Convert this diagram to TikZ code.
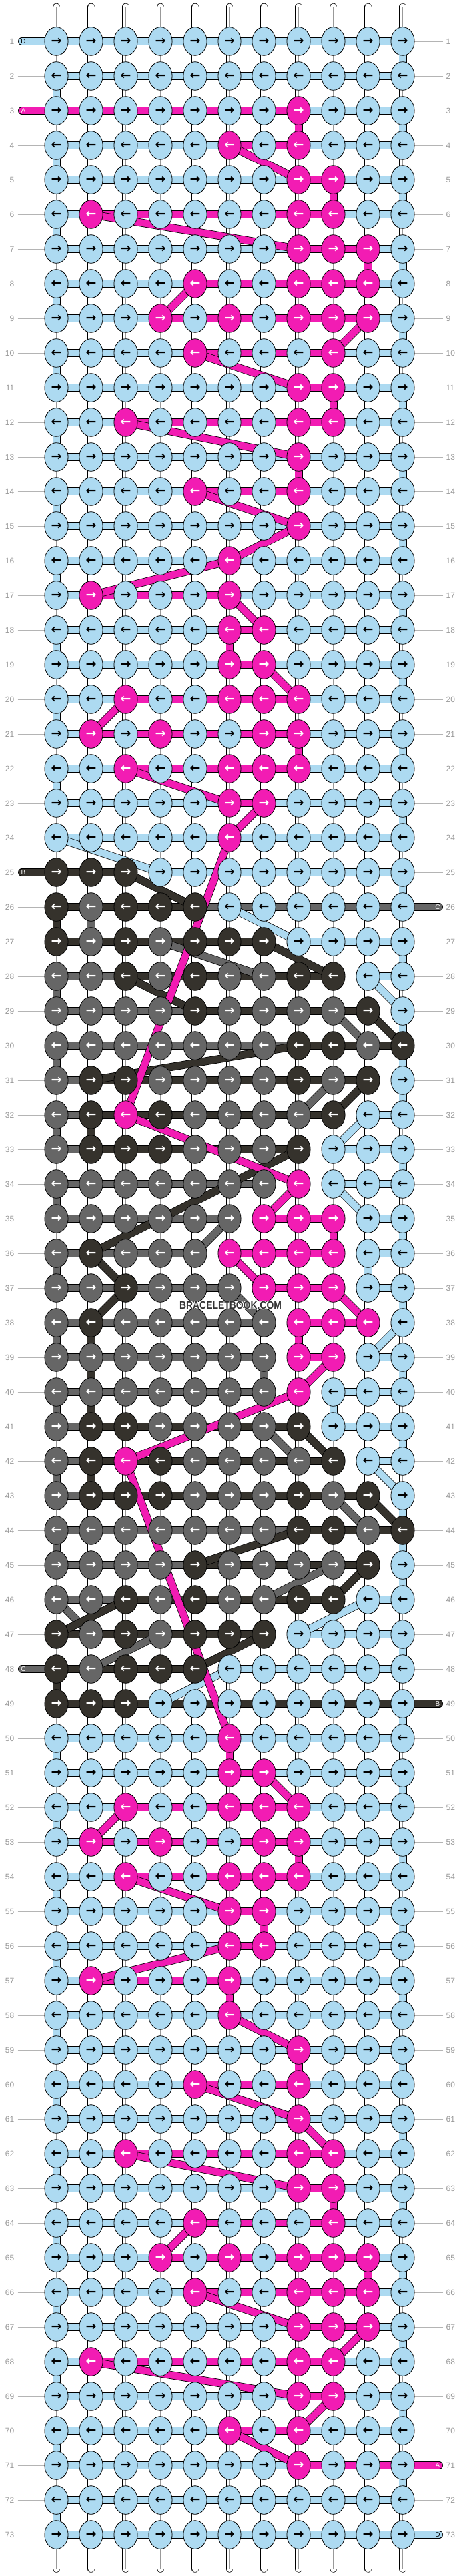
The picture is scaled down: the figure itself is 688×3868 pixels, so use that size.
\documentclass[tikz,border=0pt]{standalone}
\usepackage{fontspec}
\setmainfont{Liberation Sans}
\newfontfamily\arrowfam{DejaVu Sans}
\usetikzlibrary{shapes.geometric}
\definecolor{cb}{HTML}{ADDAF1}
\definecolor{cp}{HTML}{F21CB3}
\definecolor{cd}{HTML}{35322C}
\definecolor{cg}{HTML}{666666}
\definecolor{labc}{HTML}{9A9A9A}
\definecolor{linec}{HTML}{B4B4B4}
\pgfdeclarelayer{bgl}
\pgfdeclarelayer{hsl}
\pgfdeclarelayer{bdl}
\pgfsetlayers{bgl,hsl,bdl,main}
\tikzset{
  knot/.style={ellipse, draw=black, line width=0.8pt, minimum width=35.2pt, minimum height=42.6pt, inner sep=0pt, font=\arrowfam\bfseries\fontsize{19}{19}\selectfont},
  strand/.style={draw=black, line width=0.75pt, double=#1, double distance=10.5pt, line cap=round},
  basestr/.style={draw=black, line width=0.7pt, double=white, double distance=10pt, line cap=round},
  basemid/.style={draw=black!40, line width=0.5pt},
  lab/.style={text=labc, inner sep=0pt, font=\fontsize{12}{12}\selectfont},
  labline/.style={draw=linec, line width=1pt},
  stubl/.style={inner sep=0pt, font=\fontsize{10}{10}\selectfont},
  wmark/.style={font=\bfseries\fontsize{16}{16}\selectfont, xscale=0.87, transform shape, inner sep=0pt},
}
\newcommand\bbKnot[3]{%
  \def\kt{white}\ifx b#3\def\kt{black}\fi
  \pgfmathsetmacro\kx{84.5+52*(#2-1)}%
  \pgfmathsetmacro\ky{-62-52*(#1-1)}%
  \node[knot, fill=c#3, text=\kt] (k-#1-#2) at (\kx,\ky) {\ifodd#1 →\else ←\fi};%
  \ifnum#2=1 \coordinate (k-#1-0) at (33,\ky);\fi
  \ifnum#2=11 \coordinate (k-#1-12) at (659,\ky);\fi
}
\newcommand\bbHseg[4]{\draw[strand=c#4] (k-#1-#2.center) -- (k-#1-#3.center);}
\newcommand\bbConn[5]{\draw[strand=c#5] (k-#1-#2.center) -- (k-#3-#4.center);}

\ExplSyntaxOn
\seq_new:N \g_bb_rows_seq
\seq_gset_from_clist:Nn \g_bb_rows_seq
 {
  bbbbbbbbbbb, bbbbbbbbbbb, bbbbbbbpbbb, bbbbbpbpbbb, bbbbbbbppbb,
  bpbbbbbppbb, bbbbbbbpppb, bbbbpbbpppb, bbbpbpbpppb, bbbbpbbbpbb,
  bbbbbbbppbb, bbpbbbbppbb, bbbbbbbpbbb, bbbbpbbpbbb, bbbbbbbpbbb,
  bbbbbpbbbbb, bpbbbpbbbbb, bbbbbppbbbb, bbbbbppbbbb, bbpbbpppbbb,
  bpbpbbppbbb, bbpbbpppbbb, bbbbbppbbbb, bbbbbpbbbbb,
  dddbbbbbbbb, dgdddbbbbbb, dgdgdddbbbb, ggdgdggddbb, ggggdggggdb,
  gggggggddgd, gddggggdgdb, gdpdggggdbb, gdddgggdbbb, gggggggpbbb,
  ggggggpppbb, gdgggppppbb, ggdgggpppbb, gdgggggpppb, gggggggppbb,
  gggggggpbbb, gddggggdbbb, gdpdggggdbb, gdddgggdgdb, gggggggddgd,
  ggggdggggdb, ggdgdggddbb, dgdgdddbbbb, dgdddbbbbbb, dddbbbbbbbb,
  bbbbbpbbbbb, bbbbbppbbbb, bbpbbpppbbb, bpbpbbppbbb, bbpbbpppbbb,
  bbbbbppbbbb, bbbbbppbbbb, bpbbbpbbbbb, bbbbbpbbbbb, bbbbbbbpbbb,
  bbbbpbbpbbb, bbbbbbbpbbb, bbpbbbbppbb, bbbbbbbppbb, bbbbpbbbpbb,
  bbbpbpbpppb, bbbbpbbpppb, bbbbbbbpppb, bpbbbbbppbb, bbbbbbbppbb,
  bbbbbpbpbbb, bbbbbbbpbbb, bbbbbbbbbbb, bbbbbbbbbbb
 }
\prop_new:N \g_bb_stub_prop
\prop_gput:Nnn \g_bb_stub_prop {1b} {L}
\prop_gput:Nnn \g_bb_stub_prop {3p} {L}
\prop_gput:Nnn \g_bb_stub_prop {25d} {L}
\prop_gput:Nnn \g_bb_stub_prop {26g} {R}
\prop_gput:Nnn \g_bb_stub_prop {48g} {L}
\prop_gput:Nnn \g_bb_stub_prop {49d} {R}
\prop_gput:Nnn \g_bb_stub_prop {71p} {R}
\prop_gput:Nnn \g_bb_stub_prop {73b} {R}
\tl_new:N \l_bb_row_tl
\tl_new:N \l_bb_ch_tl
\tl_new:N \g_bb_hs_tl
\tl_new:N \g_bb_bd_tl
\int_new:N \l_bb_lo_int
\int_new:N \l_bb_hi_int
\int_new:N \l_bb_s_int
\int_new:N \l_bb_e_int
\int_new:N \l_bb_pr_int
\int_new:N \l_bb_pe_int
\cs_new_protected:Npn \bb_knots_row:n #1
 {
  \tl_set:Nx \l_bb_row_tl { \seq_item:Nn \g_bb_rows_seq {#1} }
  \int_step_inline:nnn {1} {11}
   { \use:x { \exp_not:N \bbKnot {#1} {##1} { \tl_item:Nn \l_bb_row_tl {##1} } } }
 }
\cs_new_protected:Npn \bb_color_row:nn #1#2
 {
  \tl_set:Nx \l_bb_row_tl { \seq_item:Nn \g_bb_rows_seq {#2} }
  \int_set:Nn \l_bb_lo_int {99}
  \int_set:Nn \l_bb_hi_int {-1}
  \int_step_inline:nnn {1} {11}
   {
    \tl_set:Nx \l_bb_ch_tl { \tl_item:Nn \l_bb_row_tl {##1} }
    \str_if_eq:VnT \l_bb_ch_tl {#1}
     {
      \int_compare:nNnT {##1} < \l_bb_lo_int { \int_set:Nn \l_bb_lo_int {##1} }
      \int_compare:nNnT {##1} > \l_bb_hi_int { \int_set:Nn \l_bb_hi_int {##1} }
     }
   }
  \prop_get:NnNT \g_bb_stub_prop {#2#1} \l_bb_ch_tl
   {
    \str_if_eq:VnT \l_bb_ch_tl {L}
     {
      \int_set:Nn \l_bb_lo_int {0}
      \int_compare:nNnT \l_bb_hi_int < {0} { \int_set:Nn \l_bb_hi_int {0} }
     }
    \str_if_eq:VnT \l_bb_ch_tl {R}
     {
      \int_set:Nn \l_bb_hi_int {12}
      \int_compare:nNnT \l_bb_lo_int > {12} { \int_set:Nn \l_bb_lo_int {12} }
     }
   }
  \int_compare:nNnT \l_bb_hi_int > {-1}
   {
    \int_if_odd:nTF {#2}
     {
      \int_set_eq:NN \l_bb_s_int \l_bb_lo_int
      \int_set_eq:NN \l_bb_e_int \l_bb_hi_int
     }
     {
      \int_set_eq:NN \l_bb_s_int \l_bb_hi_int
      \int_set_eq:NN \l_bb_e_int \l_bb_lo_int
     }
    \int_step_inline:nnn {\l_bb_lo_int} {\l_bb_hi_int - 1}
     { \tl_gput_right:Nx \g_bb_hs_tl { \exp_not:N \bbHseg {#2} {##1} { \int_eval:n {##1 + 1} } {#1} } }
    \int_compare:nNnT \l_bb_pr_int > {0}
     {
      \tl_gput_right:Nx \g_bb_bd_tl
       {
        \exp_not:N \bbConn { \int_use:N \l_bb_pr_int } { \int_use:N \l_bb_pe_int }
          {#2} { \int_use:N \l_bb_s_int } {#1}
       }
     }
    \int_set:Nn \l_bb_pr_int {#2}
    \int_set_eq:NN \l_bb_pe_int \l_bb_e_int
   }
 }
\cs_new_protected:Npn \bb_color:n #1
 {
  \int_set:Nn \l_bb_pr_int {0}
  \int_step_inline:nnn {1} {73} { \bb_color_row:nn {#1} {##1} }
 }
\NewDocumentCommand \DrawKnots {} { \int_step_inline:nnn {1} {73} { \bb_knots_row:n {##1} } }
\NewDocumentCommand \ComputeStrings {}
 {
  \tl_gclear:N \g_bb_hs_tl
  \tl_gclear:N \g_bb_bd_tl
  \bb_color:n {b} \bb_color:n {g} \bb_color:n {d} \bb_color:n {p}
 }
\NewDocumentCommand \HsegList {} { \tl_use:N \g_bb_hs_tl }
\NewDocumentCommand \BandList {} { \tl_use:N \g_bb_bd_tl }
\ExplSyntaxOff

\begin{document}
\begin{tikzpicture}[x=1pt,y=1pt]
\useasboundingbox (0,0) rectangle (688,-3868);
\DrawKnots
\begin{pgfonlayer}{bgl}
\fill[white] (0,0) rectangle (688,-3868);
\foreach \c in {1,...,11}{
  \pgfmathsetmacro\bx{84.5+52*(\c-1)}
  \coordinate (top-\c) at (\bx,-10.5);
  \coordinate (bot-\c) at (\bx,-3857);
  \draw[basestr] (top-\c) -- (bot-\c);
  \draw[basemid] (top-\c) -- (bot-\c);
}
\foreach \r in {1,...,73}{
  \pgfmathsetmacro\ly{-62-52*(\r-1)}
  \node[lab, anchor=east] (ll-\r) at (21.5,\ly) {\r};
  \node[lab, anchor=west] (lr-\r) at (669.5,\ly) {\r};
  \pgfmathtruncatemacro\isL{(\r==1)||(\r==3)||(\r==25)||(\r==48)}
  \pgfmathtruncatemacro\isR{(\r==26)||(\r==49)||(\r==71)||(\r==73)}
  \ifnum\isL=0 \draw[labline] ([xshift=5pt]ll-\r.east) -- (k-\r-1.center);\fi
  \ifnum\isR=0 \draw[labline] ([xshift=-4.5pt]lr-\r.west) -- (k-\r-11.center);\fi
}
\end{pgfonlayer}
\ComputeStrings
\begin{pgfonlayer}{hsl}
\HsegList
\end{pgfonlayer}
\begin{pgfonlayer}{bdl}
\BandList
\end{pgfonlayer}
\node[stubl, text=black] (sl-1) at ([xshift=2pt]k-1-0) {D};
\node[stubl, text=white] (sl-3) at ([xshift=2pt]k-3-0) {A};
\node[stubl, text=white] (sl-25) at ([xshift=2pt]k-25-0) {B};
\node[stubl, text=white] (sl-48) at ([xshift=2pt]k-48-0) {C};
\node[stubl, text=white] (sr-26) at ([xshift=-2pt]k-26-12) {C};
\node[stubl, text=white] (sr-49) at ([xshift=-2pt]k-49-12) {B};
\node[stubl, text=white] (sr-71) at ([xshift=-2pt]k-71-12) {A};
\node[stubl, text=black] (sr-73) at ([xshift=-2pt]k-73-12) {D};
\foreach \dx/\dy [count=\i] in {1/0,-1/0,0/1,0/-1,0.8/0.8,-0.8/0.8,0.8/-0.8,-0.8/-0.8}{
  \node[wmark, text=white] (wh-\i) at (346+\dx,-1960+\dy) {BRACELETBOOK.COM};
}
\node[wmark, text=black!80] (wm) at (346,-1960) {BRACELETBOOK.COM};
\end{tikzpicture}
\end{document}
